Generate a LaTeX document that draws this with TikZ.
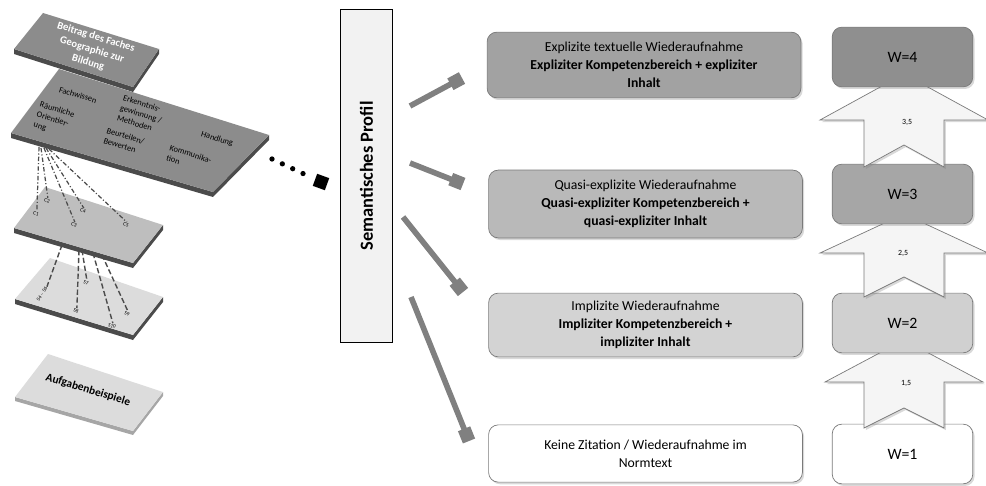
\documentclass[tikz,border=0pt]{standalone}
\usepackage{fontspec}
\setmainfont{Carlito}
\usetikzlibrary{arrows.meta,shadows}

\definecolor{plattedunkel}{HTML}{8C8C8C}
\definecolor{plattemittel}{HTML}{BEBEBE}
\definecolor{plattehell}{HTML}{DCDCDC}
\definecolor{kante}{HTML}{4B4B4B}
\definecolor{kantehell}{HTML}{A6A6A6}
\definecolor{rahmen}{HTML}{7A7A7A}
\definecolor{stufevier}{HTML}{A2A2A2}
\definecolor{stufedrei}{HTML}{B9B9B9}
\definecolor{stufezwei}{HTML}{D3D3D3}
\definecolor{wvier}{HTML}{8F8F8F}
\definecolor{wdrei}{HTML}{A6A6A6}
\definecolor{wzwei}{HTML}{D0D0D0}

\tikzset{
  schatten/.style={drop shadow={shadow xshift=1pt,shadow yshift=-1.2pt,opacity=0.3}},
  stufe/.style={draw=rahmen, rounded corners=5.5pt, schatten, align=center,
    minimum width=178.6pt, font=\fontsize{7.8}{10.2}\selectfont},
  wert/.style={draw=rahmen, rounded corners=5.5pt, schatten, minimum width=80pt,
    minimum height=34pt, font=\fontsize{9}{11}\selectfont},
  hochpfeil/.style={draw=rahmen, fill=gray!8, schatten},
  pfeilzahl/.style={font=\fontsize{4.5}{5}\selectfont},
  profilpfeil/.style={draw=gray, line width=3.2pt, -{Square[length=7.5pt,width=7.5pt]}},
  plattentext/.style={rotate=-17, align=left, inner sep=0.5pt, font=\fontsize{4.8}{6}\selectfont},
  winzig/.style={font=\fontsize{3}{3}\selectfont, inner sep=0.5pt},
  strichpunkt/.style={kante, line width=0.7pt, dash pattern=on 2.5pt off 1.2pt on 0.6pt off 1.2pt},
  strich/.style={kante, line width=0.8pt, dash pattern=on 3pt off 1.5pt},
}

\begin{document}
\begin{tikzpicture}[x=0.02cm, y=-0.02cm]
  \useasboundingbox (0,0) rectangle (986,486);

  % Ebenen links
  \fill[kante] (14,49) -- (133,87) -- (159,49) -- (159,54) -- (133,92) -- (14,54) -- cycle;
  \fill[plattedunkel] (43,13) -- (159,49) -- (133,87) -- (14,49) -- cycle;
  \node[rotate=-17, align=center, inner sep=0.5pt, text=white,
    font=\bfseries\fontsize{6}{7.6}\selectfont] (beitrag) at (92,50)
    {Beitrag des Faches\\Geographie zur\\Bildung};

  \fill[kante] (11,133) -- (213,192) -- (269,135) -- (269,140) -- (213,197) -- (11,138) -- cycle;
  \fill[plattedunkel] (59,69) -- (269,135) -- (213,192) -- (11,133) -- cycle;
  \node[plattentext] (fachwissen) at (78,95) {Fachwissen};
  \node[plattentext] (raum) at (54,120) {Räumliche\\Orientier-\\ung};
  \node[plattentext] (erkenntnis) at (141,114) {Erkenntnis-\\gewinnung /\\Methoden};
  \node[plattentext] (beurteilen) at (124,141) {Beurteilen/\\Bewerten};
  \node[plattentext] (handlung) at (217,139) {Handlung};
  \node[plattentext] (kommunikation) at (189,159) {Kommunika-\\tion};

  \fill[kante] (14,228) -- (133,263) -- (163,225) -- (163,230) -- (133,268) -- (14,233) -- cycle;
  \fill[plattemittel] (45,187) -- (163,225) -- (133,263) -- (14,228) -- cycle;

  \fill[kante] (15,299) -- (133,335) -- (163,297) -- (163,302) -- (133,340) -- (15,304) -- cycle;
  \fill[plattehell] (50,258) -- (163,297) -- (133,335) -- (15,299) -- cycle;

  \fill[kantehell] (15,397) -- (133,431) -- (163,392) -- (163,396) -- (133,435) -- (15,401) -- cycle;
  \fill[plattehell] (48,354) -- (163,392) -- (133,431) -- (15,397) -- cycle;
  \node[rotate=-17, font=\bfseries\fontsize{6.5}{7}\selectfont] (aufgaben) at (88,390) {Aufgabenbeispiele};

  % Verbindungen zwischen den Ebenen
  \node[winzig, rotate=-17] (k1) at (36,214) {C1};
  \node[winzig, rotate=-17] (k2) at (47,201) {C2};
  \node[winzig, rotate=-17] (k3) at (74,225) {C3};
  \node[winzig, rotate=-17] (k4) at (83,211) {C4};
  \node[winzig, rotate=-17] (k5) at (126,225) {C5};
  \coordinate (f1) at (39,147);
  \coordinate (f2) at (41,148);
  \coordinate (f3) at (44,148);
  \coordinate (f4) at (46,148);
  \coordinate (f5) at (49,149);
  \draw[strichpunkt] (f1) -- (k1.north);
  \draw[strichpunkt] (f2) -- (k2.north);
  \draw[strichpunkt] (f3) -- (k3.north);
  \draw[strichpunkt] (f4) -- (k4.north);
  \draw[strichpunkt] (f5) -- (k5.north);

  \node[winzig, rotate=56] (s46) at (42,294) {S4 -- S6};
  \node[winzig, rotate=-17] (s7) at (86,283) {S7};
  \node[winzig, rotate=-17] (s8) at (76,311) {S8};
  \node[winzig, rotate=-17] (s9) at (127,314) {S9};
  \node[winzig, rotate=-17] (s10) at (112,326) {S10};
  \coordinate (g1) at (62,245);
  \coordinate (g2) at (79,250);
  \coordinate (g3) at (82,250);
  \coordinate (g4) at (93,253);
  \coordinate (g5) at (102,255);
  \draw[strich] (g1) -- (s46.east);
  \draw[strich] (g2) -- (s8.north);
  \draw[strich] (g3) -- (s7.north);
  \draw[strich] (g4) -- (s10.north);
  \draw[strich] (g5) -- (s9.north);

  % Punktlinie zum Profil
  \coordinate (punkte) at (272,159);
  \node[fill=black, minimum size=7.3pt, inner sep=0pt, rotate=-20] (quadrat) at (321,182) {};
  \draw[line width=3pt, line cap=round, dash pattern=on 0pt off 6.5pt, shorten >=4pt] (punkte) -- (quadrat);

  % Semantisches Profil
  \node[rotate=90, draw, line width=0.7pt, fill=gray!10, minimum width=189.5pt, minimum height=30pt,
    font=\bfseries\fontsize{10.5}{12}\selectfont] (profil) at (366.5,176) {Semantisches Profil};

  \coordinate (a4) at (410,106);
  \coordinate (z4) at (462,78);
  \coordinate (a3) at (410,163);
  \coordinate (z3) at (463,184);
  \coordinate (a2) at (403,217);
  \coordinate (z2) at (463,292);
  \coordinate (a1) at (411,297);
  \coordinate (z1) at (469,441);
  \draw[profilpfeil] (a4) -- (z4);
  \draw[profilpfeil] (a3) -- (z3);
  \draw[profilpfeil] (a2) -- (z2);
  \draw[profilpfeil] (a1) -- (z1);

  % Stufen der Wiederaufnahme
  \node[stufe, fill=stufevier, minimum height=37.4pt] (e4) at (644,65)
    {Explizite textuelle Wiederaufnahme\\\textbf{Expliziter Kompetenzbereich + expliziter}\\\textbf{Inhalt}};
  \node[stufe, fill=stufedrei, minimum height=38.6pt] (e3) at (645.5,204)
    {Quasi-explizite Wiederaufnahme\\\textbf{Quasi-expliziter Kompetenzbereich +}\\\textbf{quasi-expliziter Inhalt}};
  \node[stufe, fill=stufezwei, minimum height=36.3pt] (e2) at (645.5,325)
    {Implizite Wiederaufnahme\\\textbf{Impliziter Kompetenzbereich +}\\\textbf{impliziter Inhalt}};
  \node[stufe, fill=white, minimum height=32.6pt] (e1) at (645.5,453.5)
    {Keine Zitation / Wiederaufnahme im\\Normtext};

  % Werte
  \node[wert, fill=white] (w1) at (902.5,454) {W=1};
  \draw[hochpfeil] (904,340) -- (983,382) -- (944,382) -- (944,428) -- (904,408) -- (864,428)
    -- (864,382) -- (825,382) -- cycle;
  \node[pfeilzahl] (p15) at (906,383) {1,5};
  \node[wert, fill=wzwei] (w2) at (902.5,323) {W=2};
  \draw[hochpfeil] (904,214) -- (988,253) -- (944,253) -- (944,297) -- (904,277) -- (864,297)
    -- (864,253) -- (820,253) -- cycle;
  \node[pfeilzahl] (p25) at (903,253) {2,5};
  \node[wert, fill=wdrei] (w3) at (902.5,194) {W=3};
  \draw[hochpfeil] (904,74) -- (988,120) -- (944,120) -- (944,167) -- (904,145) -- (864,167)
    -- (864,120) -- (820,120) -- cycle;
  \node[pfeilzahl] (p35) at (907,122) {3,5};
  \node[wert, fill=wvier] (w4) at (902.5,57) {W=4};
\end{tikzpicture}
\end{document}
